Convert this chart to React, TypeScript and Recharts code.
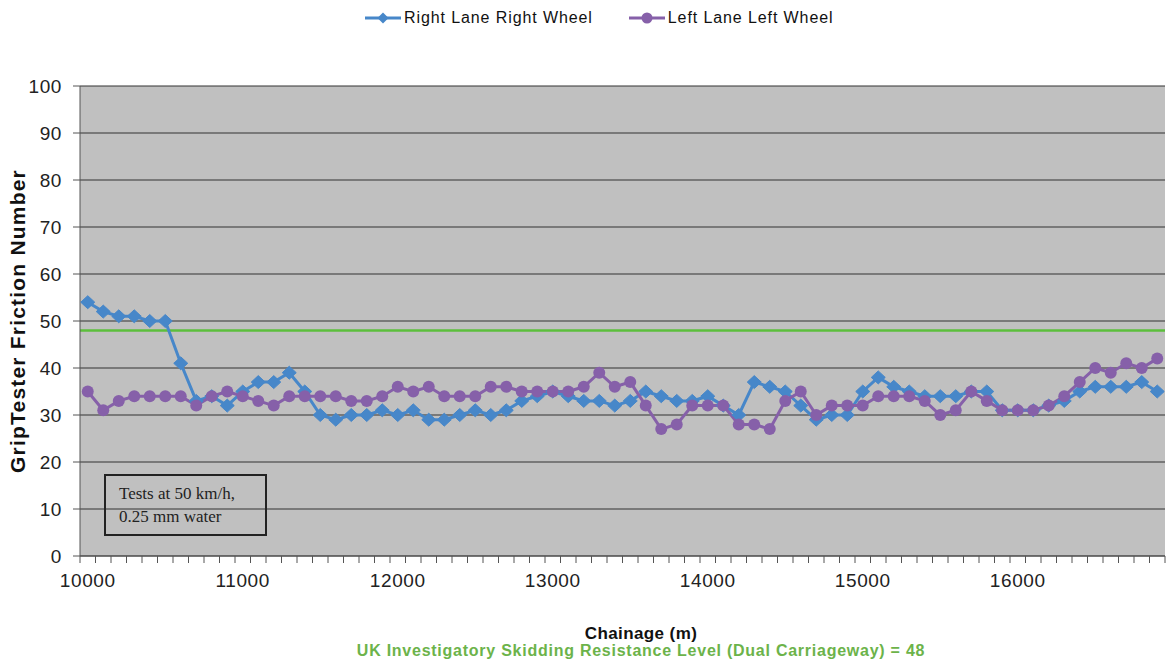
import React from 'react';
import { LineChart, Line, XAxis, YAxis, CartesianGrid, ReferenceLine } from 'recharts';

// chainage (m), one reading every 100 m
const chainage = [
    10000, 10100, 10200, 10300, 10400, 10500, 10600, 10700, 10800, 10900,
    11000, 11100, 11200, 11300, 11400, 11500, 11600, 11700, 11800, 11900,
    12000, 12100, 12200, 12300, 12400, 12500, 12600, 12700, 12800, 12900,
    13000, 13100, 13200, 13300, 13400, 13500, 13600, 13700, 13800, 13900,
    14000, 14100, 14200, 14300, 14400, 14500, 14600, 14700, 14800, 14900,
    15000, 15100, 15200, 15300, 15400, 15500, 15600, 15700, 15800, 15900,
    16000, 16100, 16200, 16300, 16400, 16500, 16600, 16700, 16800, 16900,
];

const rightLane = [
    54, 52, 51, 51, 50, 50, 41, 33, 34, 32,
    35, 37, 37, 39, 35, 30, 29, 30, 30, 31,
    30, 31, 29, 29, 30, 31, 30, 31, 33, 34,
    35, 34, 33, 33, 32, 33, 35, 34, 33, 33,
    34, 32, 30, 37, 36, 35, 32, 29, 30, 30,
    35, 38, 36, 35, 34, 34, 34, 35, 35, 31,
    31, 31, 32, 33, 35, 36, 36, 36, 37, 35,
];

const leftLane = [
    35, 31, 33, 34, 34, 34, 34, 32, 34, 35,
    34, 33, 32, 34, 34, 34, 34, 33, 33, 34,
    36, 35, 36, 34, 34, 34, 36, 36, 35, 35,
    35, 35, 36, 39, 36, 37, 32, 27, 28, 32,
    32, 32, 28, 28, 27, 33, 35, 30, 32, 32,
    32, 34, 34, 34, 33, 30, 31, 35, 33, 31,
    31, 31, 32, 34, 37, 40, 39, 41, 40, 42,
];

const xLabelTicks = [10000, 11000, 12000, 13000, 14000, 15000, 16000];
const yTicks = [0, 10, 20, 30, 40, 50, 60, 70, 80, 90, 100];
const skidLevel = 48;

const BLUE = '#4787c9';
const PURPLE = '#8660a9';
const GREEN = '#5cbf3c';

const data = chainage.map((c, i) => ({ chainage: c, right: rightLane[i], left: leftLane[i] }));

// category boundaries, half a step either side of each reading
const boundaryTicks = [...chainage.map((c) => c - 50), chainage[chainage.length - 1] + 50];
const allXTicks = [...boundaryTicks, ...xLabelTicks].sort((a, b) => a - b);

const Diamond = (props: any) => {
    const { cx, cy } = props;
    if (cx == null || cy == null) return null;
    return (
        <polygon
            points={`${cx},${cy - 6.5} ${cx + 7},${cy} ${cx},${cy + 6.5} ${cx - 7},${cy}`}
            fill={BLUE}
            stroke={BLUE}
        />
    );
};

const XTick = (props: any) => {
    const { x, y, payload } = props;
    const v = payload.value;
    if (xLabelTicks.includes(v)) {
        return (
            <text x={x} y={y + 31} textAnchor="middle" fontSize={19} fill="#222" letterSpacing={0.6}>
                {v}
            </text>
        );
    }
    return <line x1={x} x2={x} y1={y} y2={y + 7} stroke="#555" strokeWidth={1} />;
};

const LegendIcon = ({ color, shape }: { color: string; shape: 'diamond' | 'circle' }) => (
    <svg width={36} height={14} style={{ marginRight: 3 }}>
        <line x1={0} x2={36} y1={7} y2={7} stroke={color} strokeWidth={3} />
        {shape === 'diamond' ? (
            <polygon points="18,1.5 23.5,7 18,12.5 12.5,7" fill={color} />
        ) : (
            <circle cx={18} cy={7} r={5.5} fill={color} />
        )}
    </svg>
);

export default function App() {
    return (
        <div
            style={{
                position: 'absolute',
                left: 0,
                top: 0,
                width: 1167,
                height: 669,
                overflow: 'hidden',
                background: '#fff',
                fontFamily: '"Liberation Sans", Arial, sans-serif',
            }}
        >
            <LineChart
                width={1180}
                height={669}
                data={data}
                margin={{ top: 86, right: 15, bottom: 73, left: 8 }}
            >
                <CartesianGrid vertical={false} stroke="#333" strokeWidth={1.2} fill="#c0c0c0" />
                <XAxis
                    dataKey="chainage"
                    type="number"
                    domain={[9950, 16950]}
                    ticks={allXTicks}
                    interval={0}
                    tick={<XTick />}
                    tickLine={false}
                    tickSize={0}
                    tickMargin={0}
                    height={40}
                    axisLine={{ stroke: '#555' }}
                />
                <YAxis
                    domain={[0, 100]}
                    ticks={yTicks}
                    interval={0}
                    width={72}
                    tickSize={7}
                    tickMargin={11}
                    tick={{ fontSize: 19, fill: '#222', letterSpacing: 0.6 }}
                    tickLine={{ stroke: '#555' }}
                    axisLine={{ stroke: '#555' }}
                />
                <ReferenceLine y={skidLevel} stroke={GREEN} strokeWidth={2.5} />
                <Line
                    dataKey="right"
                    name="Right Lane Right Wheel"
                    stroke={BLUE}
                    strokeWidth={3}
                    dot={<Diamond />}
                    isAnimationActive={false}
                />
                <Line
                    dataKey="left"
                    name="Left Lane Left Wheel"
                    stroke={PURPLE}
                    strokeWidth={3}
                    dot={{ r: 6, fill: PURPLE, stroke: PURPLE, strokeWidth: 0 }}
                    isAnimationActive={false}
                />
            </LineChart>

            {/* legend */}
            <div
                style={{
                    position: 'absolute',
                    top: 9,
                    left: 365,
                    display: 'flex',
                    alignItems: 'center',
                    fontSize: 16,
                    letterSpacing: 0.9,
                    color: '#111',
                    whiteSpace: 'nowrap',
                }}
            >
                <LegendIcon color={BLUE} shape="diamond" />
                <span>Right Lane Right Wheel</span>
                <span style={{ width: 36 }} />
                <LegendIcon color={PURPLE} shape="circle" />
                <span>Left Lane Left Wheel</span>
            </div>

            {/* y axis title */}
            <div
                style={{
                    position: 'absolute',
                    left: 18,
                    top: 321,
                    transform: 'translate(-50%, -50%) rotate(-90deg)',
                    fontSize: 21,
                    fontWeight: 'bold',
                    letterSpacing: 1.2,
                    whiteSpace: 'nowrap',
                    color: '#111',
                }}
            >
                GripTester Friction Number
            </div>

            {/* note box */}
            <div
                style={{
                    position: 'absolute',
                    left: 104,
                    top: 474,
                    width: 163,
                    height: 62,
                    border: '2px solid #222',
                    fontFamily: '"Liberation Serif", "Times New Roman", serif',
                    fontSize: 17,
                    lineHeight: '23px',
                    color: '#222',
                    padding: '6px 0 0 13px',
                    boxSizing: 'border-box',
                }}
            >
                Tests at 50 km/h,
                <br />
                0.25 mm water
            </div>

            {/* x axis title and threshold note */}
            <div
                style={{
                    position: 'absolute',
                    left: 641,
                    top: 624,
                    transform: 'translateX(-50%)',
                    fontSize: 17,
                    fontWeight: 'bold',
                    letterSpacing: 0.4,
                    whiteSpace: 'nowrap',
                    color: '#111',
                }}
            >
                Chainage (m)
            </div>
            <div
                style={{
                    position: 'absolute',
                    left: 641,
                    top: 642,
                    transform: 'translateX(-50%)',
                    fontSize: 16,
                    fontWeight: 'bold',
                    letterSpacing: 0.75,
                    whiteSpace: 'nowrap',
                    color: '#6cb34a',
                }}
            >
                UK Investigatory Skidding Resistance Level (Dual Carriageway) = {skidLevel}
            </div>
        </div>
    );
}
